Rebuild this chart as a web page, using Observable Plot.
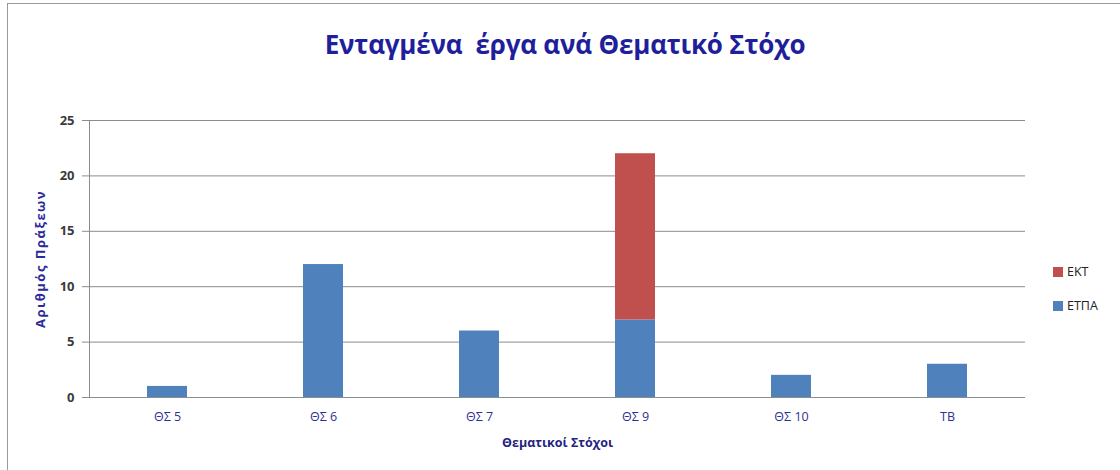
<!DOCTYPE html>
<html>
<head>
<meta charset="utf-8">
<script src="https://cdn.jsdelivr.net/npm/d3@7"></script>
<script src="https://cdn.jsdelivr.net/npm/@observablehq/plot@0.6"></script>
<style>
  html, body { margin: 0; padding: 0; background: #fff; overflow: hidden; }
  #wrap { position: relative; width: 1120px; height: 470px; overflow: hidden; font-family: "Open Sans", sans-serif; }
  #frame { position: absolute; left: 7px; top: 3px; width: 1113px; height: 467px; border-left: 1px solid #9a9a9a; border-top: 1px solid #9a9a9a; box-sizing: border-box; }
  #title { position: absolute; left: 0; width: 1130px; top: 26px; text-align: center; font-size: 26px; font-weight: 700; color: #1f1f9c; letter-spacing: -0.2px; }
  #chart { position: absolute; left: 0; top: 0; }
  .legend { position: absolute; left: 1053px; font-size: 12.5px; color: #222; }
  .legend span.sw { display: inline-block; width: 10px; height: 10px; margin-right: 4px; vertical-align: -1px; }
</style>
</head>
<body>
<div id="wrap">
  <div id="frame"></div>
  <div id="chart"></div>
  <div id="title">Ενταγμένα&nbsp;&nbsp;έργα ανά Θεματικό Στόχο</div>
  <div id="legend"></div>
</div>
<script>
const categories = ["ΘΣ 5", "ΘΣ 6", "ΘΣ 7", "ΘΣ 9", "ΘΣ 10", "TB"];
const seriesNames = ["ΕΤΠΑ", "ΕΚΤ"];
const etpa = [1, 12, 6, 7, 2, 3];
const ekt = [0, 0, 0, 15, 0, 0];
const colors = ["#4f81bd", "#c0504d"];
const yTicks = [0, 5, 10, 15, 20, 25];

const rows = [];
categories.forEach((c, i) => { if (etpa[i] > 0) rows.push({cat: c, series: seriesNames[0], value: etpa[i]}); });
categories.forEach((c, i) => { if (ekt[i] > 0) rows.push({cat: c, series: seriesNames[1], value: ekt[i]}); });

const plot = Plot.plot({
  width: 1120,
  height: 470,
  marginLeft: 89,
  marginRight: 95,
  marginTop: 120,
  marginBottom: 73,
  style: { fontFamily: "Open Sans, sans-serif", background: "transparent", overflow: "visible" },
  x: { domain: categories, paddingInner: 0.745, paddingOuter: 0.3725, label: null, axis: null },
  y: { domain: [0, 25], label: null, axis: null },
  color: { domain: seriesNames, range: colors },
  marks: [
    Plot.gridY(yTicks, { stroke: "#8c8c8c", strokeOpacity: 1, strokeWidth: 1 }),
    Plot.axisY(yTicks, { tickSize: 7, tickPadding: 8, stroke: "#8c8c8c", fill: "#3b3b3b", fontSize: 13, fontWeight: "bold", tickFormat: d => d }),
    Plot.barY(rows, { x: "cat", y: "value", fill: "series", order: seriesNames }),
    Plot.axisX({ tickSize: 0, tickPadding: 15, fill: "#2f2f95", fontSize: 12.5 }),
    Plot.text(["Θεματικοί Στόχοι"], { frameAnchor: "bottom", dy: 49, text: d => d, fill: "#23237f", fontSize: 12.5, fontWeight: "bold" }),
    Plot.text(["Αριθμός Πράξεων"], { frameAnchor: "left", dx: -49, rotate: -90, textAnchor: "middle", text: d => d, fill: "#2a2a9a", fontSize: 13, fontWeight: "bold", className: "ytitle" })
  ]
});
document.getElementById("chart").appendChild(plot);

const svg = d3.select(plot);
svg.selectAll(".ytitle text").style("letter-spacing", "1.5px");
// y axis line
svg.append("line").attr("x1", 89.5).attr("x2", 89.5).attr("y1", 120).attr("y2", 397).attr("stroke", "#8c8c8c");

const legend = document.getElementById("legend");
const legendItems = [[seriesNames[1], colors[1], 263], [seriesNames[0], colors[0], 297]];
legendItems.forEach(([name, col, top]) => {
  const d = document.createElement("div");
  d.className = "legend";
  d.style.top = top + "px";
  d.innerHTML = `<span class="sw" style="background:${col}"></span>${name}`;
  legend.appendChild(d);
});
</script>
</body>
</html>
